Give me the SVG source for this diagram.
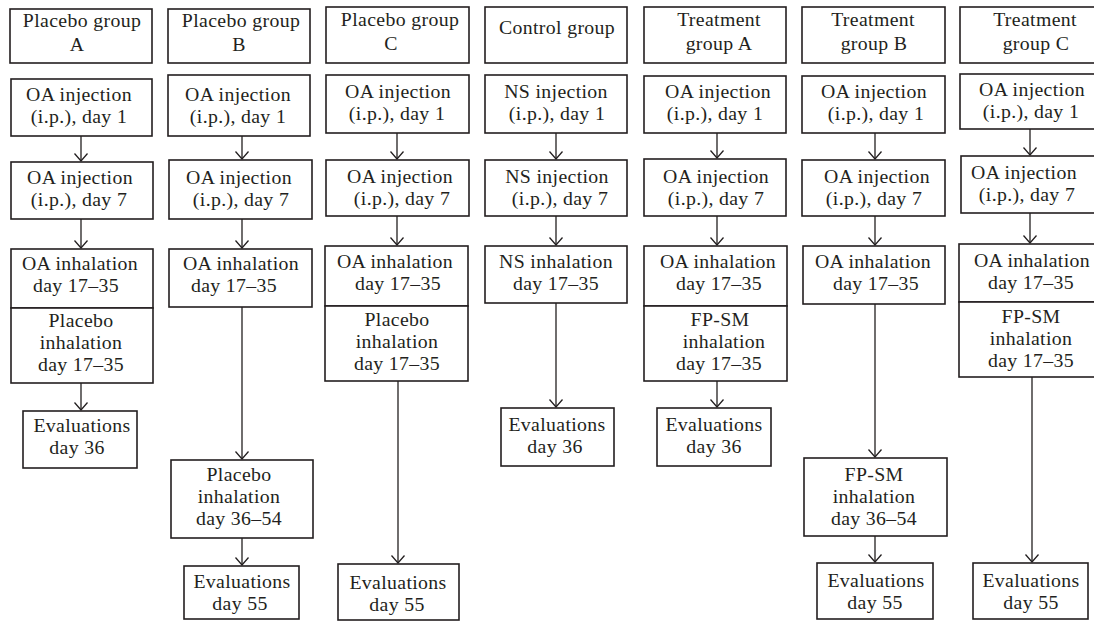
<svg xmlns="http://www.w3.org/2000/svg" width="1094" height="622" viewBox="0 0 1094 622">
<style>
.box{fill:#fff;stroke:#231f20;stroke-width:1.6}
.t{font-family:"Liberation Serif","Times New Roman",serif;font-size:19.8px;letter-spacing:0.35px;fill:#231f20;text-anchor:middle}
.c{fill:none;stroke:#231f20;stroke-width:1.3;marker-end:url(#ah)}
</style>
<defs>
<marker id="ah" markerUnits="userSpaceOnUse" markerWidth="16" markerHeight="16" refX="0" refY="0" viewBox="-9 -8 10 16" orient="auto">
<path d="M-7.5,-6.5 L0,0 L-7.5,6.5" fill="none" stroke="#231f20" stroke-width="1.3"/>
</marker>
</defs>
<rect width="1094" height="622" fill="#fff"/>

<g id="connectors">
<line class="c" x1="81" y1="136" x2="81" y2="161"/>
<line class="c" x1="81" y1="219" x2="81" y2="248"/>
<line class="c" x1="81" y1="383" x2="81" y2="410"/>

<line class="c" x1="242" y1="136" x2="242" y2="159"/>
<line class="c" x1="242" y1="219" x2="242" y2="248"/>
<line class="c" x1="242" y1="307" x2="242" y2="459"/>
<line class="c" x1="242" y1="538" x2="242" y2="565"/>

<line class="c" x1="397" y1="133" x2="397" y2="159"/>
<line class="c" x1="397" y1="216" x2="397" y2="245"/>
<line class="c" x1="398" y1="381" x2="398" y2="563"/>

<line class="c" x1="556" y1="133" x2="556" y2="159"/>
<line class="c" x1="556" y1="216" x2="556" y2="245"/>
<line class="c" x1="556" y1="303" x2="556" y2="407"/>

<line class="c" x1="717" y1="133" x2="717" y2="158"/>
<line class="c" x1="717" y1="216" x2="717" y2="245"/>
<line class="c" x1="717" y1="381" x2="717" y2="407"/>

<line class="c" x1="875" y1="133" x2="875" y2="159"/>
<line class="c" x1="875" y1="216" x2="875" y2="245"/>
<line class="c" x1="875" y1="304" x2="875" y2="457"/>
<line class="c" x1="875" y1="536" x2="875" y2="562"/>

<line class="c" x1="1030" y1="129" x2="1030" y2="155"/>
<line class="c" x1="1030" y1="213" x2="1030" y2="243"/>
<line class="c" x1="1032" y1="377" x2="1032" y2="562"/>
</g>

<!-- Placebo group A -->
<g id="placeboA">
<g id="pA-head"><rect class="box" x="10" y="9" width="142" height="54"/><text class="t" x="82" y="27">Placebo group</text><text class="t" x="77" y="51">A</text></g>
<g id="pA-d1"><rect class="box" x="11" y="79" width="141" height="57"/><text class="t" x="79" y="101">OA injection</text><text class="t" x="79" y="123">(i.p.), day 1</text></g>
<g id="pA-d7"><rect class="box" x="11" y="162" width="142" height="57"/><text class="t" x="80" y="184">OA injection</text><text class="t" x="79" y="206">(i.p.), day 7</text></g>
<g id="pA-inh"><rect class="box" x="11" y="249" width="142" height="59"/><text class="t" x="80" y="270">OA inhalation</text><text class="t" x="76" y="292">day 17–35</text></g>
<g id="pA-pl"><rect class="box" x="11" y="308" width="142" height="75"/><text class="t" x="81" y="327">Placebo</text><text class="t" x="81" y="349">inhalation</text><text class="t" x="81" y="371">day 17–35</text></g>
<g id="pA-ev"><rect class="box" x="23" y="411" width="114" height="57"/><text class="t" x="82" y="432">Evaluations</text><text class="t" x="77" y="454">day 36</text></g>
</g>

<!-- Placebo group B -->
<g id="placeboB">
<g id="pB-head"><rect class="box" x="168" y="9" width="142" height="54"/><text class="t" x="241" y="27">Placebo group</text><text class="t" x="239" y="51">B</text></g>
<g id="pB-d1"><rect class="box" x="168" y="75" width="142" height="61"/><text class="t" x="238" y="101">OA injection</text><text class="t" x="238" y="123">(i.p.), day 1</text></g>
<g id="pB-d7"><rect class="box" x="169" y="160" width="143" height="59"/><text class="t" x="239" y="184">OA injection</text><text class="t" x="241" y="206">(i.p.), day 7</text></g>
<g id="pB-inh"><rect class="box" x="169" y="249" width="143" height="58"/><text class="t" x="241" y="270">OA inhalation</text><text class="t" x="234" y="292">day 17–35</text></g>
<g id="pB-pl"><rect class="box" x="171" y="460" width="142" height="78"/><text class="t" x="239" y="481">Placebo</text><text class="t" x="239" y="503">inhalation</text><text class="t" x="239" y="525">day 36–54</text></g>
<g id="pB-ev"><rect class="box" x="184" y="566" width="115" height="53"/><text class="t" x="242" y="588">Evaluations</text><text class="t" x="240" y="610">day 55</text></g>
</g>

<!-- Placebo group C -->
<g id="placeboC">
<g id="pC-head"><rect class="box" x="326" y="7" width="143" height="56"/><text class="t" x="400" y="26">Placebo group</text><text class="t" x="391" y="50">C</text></g>
<g id="pC-d1"><rect class="box" x="326" y="75" width="143" height="58"/><text class="t" x="398" y="98">OA injection</text><text class="t" x="397" y="120">(i.p.), day 1</text></g>
<g id="pC-d7"><rect class="box" x="326" y="160" width="143" height="56"/><text class="t" x="400" y="183">OA injection</text><text class="t" x="402" y="205">(i.p.), day 7</text></g>
<g id="pC-inh"><rect class="box" x="325" y="246" width="143" height="60"/><text class="t" x="395" y="268">OA inhalation</text><text class="t" x="398" y="290">day 17–35</text></g>
<g id="pC-pl"><rect class="box" x="325" y="306" width="143" height="75"/><text class="t" x="397" y="326">Placebo</text><text class="t" x="397" y="348">inhalation</text><text class="t" x="397" y="370">day 17–35</text></g>
<g id="pC-ev"><rect class="box" x="338" y="564" width="121" height="56"/><text class="t" x="398" y="589">Evaluations</text><text class="t" x="397" y="611">day 55</text></g>
</g>

<!-- Control group -->
<g id="control">
<g id="ct-head"><rect class="box" x="485" y="7" width="142" height="56"/><text class="t" x="557" y="34">Control group</text></g>
<g id="ct-d1"><rect class="box" x="485" y="75" width="142" height="58"/><text class="t" x="556" y="98">NS injection</text><text class="t" x="557" y="120">(i.p.), day 1</text></g>
<g id="ct-d7"><rect class="box" x="485" y="160" width="142" height="56"/><text class="t" x="557" y="183">NS injection</text><text class="t" x="560" y="205">(i.p.), day 7</text></g>
<g id="ct-inh"><rect class="box" x="485" y="246" width="142" height="57"/><text class="t" x="556" y="268">NS inhalation</text><text class="t" x="556" y="290">day 17–35</text></g>
<g id="ct-ev"><rect class="box" x="501" y="408" width="113" height="58"/><text class="t" x="557" y="431">Evaluations</text><text class="t" x="555" y="453">day 36</text></g>
</g>

<!-- Treatment group A -->
<g id="treatA">
<g id="tA-head"><rect class="box" x="644" y="7" width="142" height="56"/><text class="t" x="719" y="26">Treatment</text><text class="t" x="719" y="50">group A</text></g>
<g id="tA-d1"><rect class="box" x="644" y="76" width="142" height="57"/><text class="t" x="718" y="98">OA injection</text><text class="t" x="715" y="120">(i.p.), day 1</text></g>
<g id="tA-d7"><rect class="box" x="644" y="159" width="142" height="57"/><text class="t" x="716" y="183">OA injection</text><text class="t" x="716" y="205">(i.p.), day 7</text></g>
<g id="tA-inh"><rect class="box" x="644" y="246" width="143" height="60"/><text class="t" x="718" y="268">OA inhalation</text><text class="t" x="719" y="290">day 17–35</text></g>
<g id="tA-fp"><rect class="box" x="644" y="306" width="143" height="75"/><text class="t" x="720" y="326">FP-SM</text><text class="t" x="724" y="348">inhalation</text><text class="t" x="719" y="370">day 17–35</text></g>
<g id="tA-ev"><rect class="box" x="657" y="408" width="114" height="58"/><text class="t" x="714" y="431">Evaluations</text><text class="t" x="714" y="453">day 36</text></g>
</g>

<!-- Treatment group B -->
<g id="treatB">
<g id="tB-head"><rect class="box" x="802" y="7" width="143" height="56"/><text class="t" x="873" y="26">Treatment</text><text class="t" x="874" y="50">group B</text></g>
<g id="tB-d1"><rect class="box" x="802" y="76" width="143" height="57"/><text class="t" x="874" y="98">OA injection</text><text class="t" x="876" y="120">(i.p.), day 1</text></g>
<g id="tB-d7"><rect class="box" x="802" y="160" width="143" height="56"/><text class="t" x="877" y="183">OA injection</text><text class="t" x="874" y="205">(i.p.), day 7</text></g>
<g id="tB-inh"><rect class="box" x="803" y="246" width="142" height="58"/><text class="t" x="873" y="268">OA inhalation</text><text class="t" x="876" y="290">day 17–35</text></g>
<g id="tB-fp"><rect class="box" x="804" y="458" width="143" height="78"/><text class="t" x="874" y="481">FP-SM</text><text class="t" x="874" y="503">inhalation</text><text class="t" x="874" y="525">day 36–54</text></g>
<g id="tB-ev"><rect class="box" x="817" y="563" width="116" height="56"/><text class="t" x="876" y="587">Evaluations</text><text class="t" x="875" y="609">day 55</text></g>
</g>

<!-- Treatment group C -->
<g id="treatC">
<g id="tC-head"><rect class="box" x="960" y="7" width="150" height="56"/><text class="t" x="1035" y="26">Treatment</text><text class="t" x="1036" y="50">group C</text></g>
<g id="tC-d1"><rect class="box" x="960" y="74" width="150" height="55"/><text class="t" x="1032" y="96">OA injection</text><text class="t" x="1031" y="118">(i.p.), day 1</text></g>
<g id="tC-d7"><rect class="box" x="961" y="156" width="150" height="57"/><text class="t" x="1024" y="179">OA injection</text><text class="t" x="1027" y="201">(i.p.), day 7</text></g>
<g id="tC-inh"><rect class="box" x="959" y="244" width="150" height="58"/><text class="t" x="1032" y="267">OA inhalation</text><text class="t" x="1031" y="289">day 17–35</text></g>
<g id="tC-fp"><rect class="box" x="959" y="302" width="150" height="75"/><text class="t" x="1031" y="323">FP-SM</text><text class="t" x="1031" y="345">inhalation</text><text class="t" x="1031" y="367">day 17–35</text></g>
<g id="tC-ev"><rect class="box" x="973" y="563" width="115" height="56"/><text class="t" x="1031" y="587">Evaluations</text><text class="t" x="1031" y="609">day 55</text></g>
</g>
</svg>
